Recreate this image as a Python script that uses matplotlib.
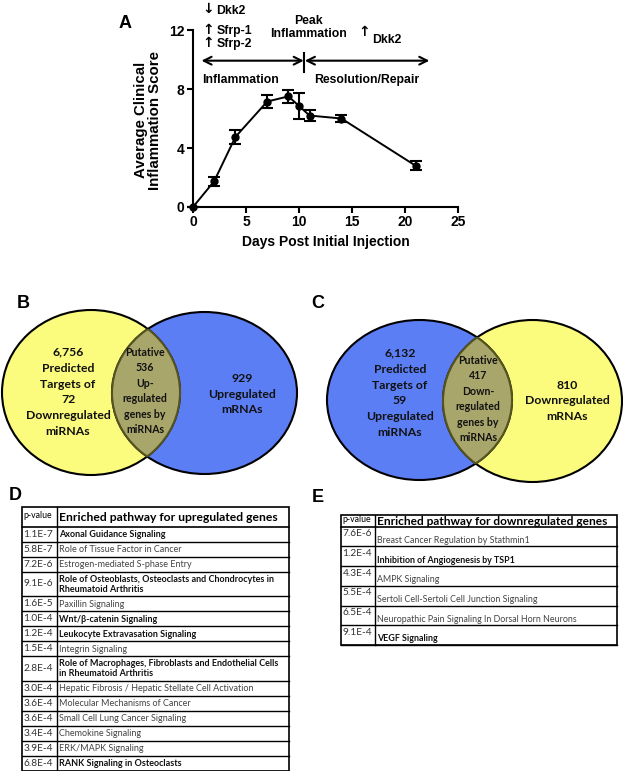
import matplotlib
matplotlib.use('Agg')
import matplotlib.pyplot as plt
from matplotlib.patches import Ellipse, Rectangle

plt.rcParams['font.family'] = ['Liberation Sans', 'DejaVu Sans']

# panel A: clinical score over time
days = [0, 2, 4, 7, 9, 10, 11, 14, 21]
score = [0, 1.75, 4.75, 7.15, 7.5, 6.85, 6.2, 6.0, 2.8]
score_err = [0, 0.3, 0.45, 0.45, 0.45, 0.85, 0.35, 0.25, 0.3]

# panels B / C: venn texts
venn_b = ['6,756\nPredicted\nTargets of\n72\nDownregulated\nmiRNAs',
          'Putative\n536\nUp-\nregulated\ngenes by\nmiRNAs',
          '929\nUpregulated\nmRNAs']
venn_c = ['6,132\nPredicted\nTargets of\n59\nUpregulated\nmiRNAs',
          'Putative\n417\nDown-\nregulated\ngenes by\nmiRNAs',
          '810\nDownregulated\nmRNAs']

# panel D
up_pvals = ['1.1E-7', '5.8E-7', '7.2E-6', '9.1E-6', '1.6E-5', '1.0E-4', '1.2E-4',
            '1.5E-4', '2.8E-4', '3.0E-4', '3.6E-4', '3.6E-4', '3.4E-4', '3.9E-4', '6.8E-4']
up_paths = ['Axonal Guidance Signaling',
            'Role of Tissue Factor in Cancer',
            'Estrogen-mediated S-phase Entry',
            'Role of Osteoblasts, Osteoclasts and Chondrocytes in\nRheumatoid Arthritis',
            'Paxillin Signaling',
            'Wnt/β-catenin Signaling',
            'Leukocyte Extravasation Signaling',
            'Integrin Signaling',
            'Role of Macrophages, Fibroblasts and Endothelial Cells\nin Rheumatoid Arthritis',
            'Hepatic Fibrosis / Hepatic Stellate Cell Activation',
            'Molecular Mechanisms of Cancer',
            'Small Cell Lung Cancer Signaling',
            'Chemokine Signaling',
            'ERK/MAPK Signaling',
            'RANK Signaling in Osteoclasts']
up_bold = [1, 0, 0, 1, 0, 1, 1, 0, 1, 0, 0, 0, 0, 0, 1]

# panel E
down_pvals = ['7.6E-6', '1.2E-4', '4.3E-4', '5.5E-4', '6.5E-4', '9.1E-4']
down_paths = ['Breast Cancer Regulation by Stathmin1',
              'Inhibition of Angiogenesis by TSP1',
              'AMPK Signaling',
              'Sertoli Cell-Sertoli Cell Junction Signaling',
              'Neuropathic Pain Signaling In Dorsal Horn Neurons',
              'VEGF Signaling']
down_bold = [0, 1, 0, 0, 0, 1]

W, H = 623, 771
fig = plt.figure(figsize=(W / 100, H / 100), dpi=100)

# pixel-space canvas for venns, tables and letters
bg = fig.add_axes([0, 0, 1, 1])
bg.set_xlim(0, W)
bg.set_ylim(H, 0)
bg.axis('off')

# ---- A ----
ax = fig.add_axes([193 / W, (H - 207) / H, 265 / W, 177 / H])
ax.patch.set_alpha(0)
ax.errorbar(days, score, yerr=score_err, fmt='-o', color='black', ms=5,
            lw=1.4, elinewidth=1.5, capsize=4, capthick=1.5, clip_on=False, zorder=5)
ax.set_xlim(0, 25)
ax.set_ylim(0, 12)
ax.set_xticks([0, 5, 10, 15, 20, 25])
ax.set_yticks([0, 4, 8, 12])
for s in ['top', 'right']:
    ax.spines[s].set_visible(False)
for s in ['left', 'bottom']:
    ax.spines[s].set_linewidth(1.5)
ax.tick_params(direction='out', length=4, width=1.5, labelsize=10, pad=2)
for lab in ax.get_xticklabels() + ax.get_yticklabels():
    lab.set_fontweight('bold')
ax.set_xlabel('Days Post Initial Injection', fontsize=10, fontweight='bold', labelpad=4)
ax.text(-0.17, 0.49, 'Average Clinical\nInflammation Score', transform=ax.transAxes,
        rotation=90, ha='center', va='center', fontsize=10.8, fontweight='bold',
        linespacing=1.05)

kw = dict(fontsize=8.8, fontweight='bold', clip_on=False)
akw = dict(fontsize=10, family='DejaVu Sans', fontweight='bold', ha='center', va='center',
           clip_on=False)
ax.text(1.4, 13.4, '↓', **akw)
ax.text(1.4, 12.0, '↑', **akw)
ax.text(1.4, 11.1, '↑', **akw)
ax.text(2.2, 13.3, 'Dkk2', va='center', **kw)
ax.text(2.2, 11.9, 'Sfrp-1', va='center', **kw)
ax.text(2.2, 11.05, 'Sfrp-2', va='center', **kw)
ax.text(10.9, 12.63, 'Peak', ha='center', va='center', **kw)
ax.text(10.85, 11.7, 'Inflammation', ha='center', va='center', **kw)
ax.text(16.1, 11.85, '↑', **akw)
ax.text(16.9, 11.3, 'Dkk2', va='center', **kw)
ax.text(0.9, 8.6, 'Inflammation', va='center', **kw)
ax.text(11.4, 8.6, 'Resolution/Repair', va='center', **kw)
arr = dict(arrowstyle='<->', lw=1.5, color='black', mutation_scale=14, shrinkA=0, shrinkB=0)
ax.annotate('', xy=(0.8, 9.92), xytext=(10.45, 9.92), arrowprops=arr, annotation_clip=False)
ax.annotate('', xy=(10.55, 9.92), xytext=(22.3, 9.92), arrowprops=arr, annotation_clip=False)
ax.plot([10.5, 10.5], [9.17, 10.45], color='black', lw=1.5, clip_on=False)

# ---- letters ----
for ch, x, y in [('A', 125, 23), ('B', 23, 303), ('C', 318, 303), ('D', 15, 495), ('E', 318, 497)]:
    bg.text(x, y, ch, ha='center', va='center', fontsize=13, fontweight='bold')

# ---- venns ----
YEL = '#fbfb7e'
BLU = '#5c7ef5'
OLV = '#a9a66b'


def venn(left, right, lcol, rcol, texts, tpos):
    e1 = Ellipse(left[:2], left[2], left[3], facecolor=lcol, edgecolor='none', zorder=1)
    e2 = Ellipse(right[:2], right[2], right[3], facecolor=rcol, edgecolor='none', zorder=1)
    bg.add_patch(e1)
    bg.add_patch(e2)
    ov = Ellipse(left[:2], left[2], left[3], facecolor=OLV, edgecolor='#55541f', lw=1.5, zorder=2)
    bg.add_patch(ov)
    ov.set_clip_path(e2)
    ov2 = Ellipse(right[:2], right[2], right[3], facecolor='none', edgecolor='#55541f', lw=1.5, zorder=2)
    bg.add_patch(ov2)
    ov2.set_clip_path(e1)
    for e in (left, right):
        bg.add_patch(Ellipse(e[:2], e[2], e[3], facecolor='none', edgecolor='black', lw=1.5, zorder=1.5))
    sizes = [8.8, 7.6, 8.8]
    spacing = [1.55, 1.5, 1.55]
    for t, (x, y), fs, ls in zip(texts, tpos, sizes, spacing):
        bg.text(x, y, t, ha='center', va='center', fontsize=fs, fontweight='bold',
                family='Lato', linespacing=ls, zorder=3, color='#111111')


venn((91, 392.5, 178, 165), (204.5, 393, 185, 162), YEL, BLU, venn_b,
     [(68, 392), (145, 391), (242, 394)])
venn((532.5, 401, 179, 162), (419.5, 400, 185, 160), YEL, BLU, venn_c,
     [(400, 393), (478, 399), (567, 401)])


# ---- tables ----
def table(x0, xs, x1, head_top, head_bot, heights, pvals, paths, bold, header,
          hfs, rfs, e_style):
    bg.add_patch(Rectangle((x0, head_top), x1 - x0, sum(heights) + head_bot - head_top,
                           facecolor='none', edgecolor='black', lw=1.2, zorder=4))
    bg.plot([xs, xs], [head_top, head_bot + sum(heights)], color='black', lw=1, zorder=4)
    bg.plot([x0, x1], [head_bot, head_bot], color='black', lw=1.2, zorder=4)
    bg.text(x0 + 1.5, (head_top + head_bot) / 2 - 1.5, 'p-value', fontsize=6.3, family='Lato',
            va='center', ha='left')
    bg.text(xs + 2, (head_top + head_bot) / 2 + 0.5, header, fontsize=hfs, family='Lato',
            fontweight='bold', va='center', ha='left')
    y = head_bot
    for h, p, t, b in zip(heights, pvals, paths, bold):
        if e_style:
            bg.text(x0 + 1.5, y + 2.5, p, fontsize=7.3, family='Lato', va='top', color='#333333')
            bg.text(xs + 2, y + h - 1.5, t, fontsize=rfs, family='Lato', va='bottom',
                    fontweight='bold' if b else 'normal',
                    color='#111111' if b else '#444444')
        else:
            bg.text(x0 + 1.5, y + h / 2, p, fontsize=7.3, family='Lato', va='center', color='#333333')
            bg.text(xs + 2, y + h / 2 + 0.5, t, fontsize=rfs, family='Lato', va='center',
                    fontweight='bold' if b else 'normal', linespacing=1.15,
                    color='#111111' if b else '#444444')
        y += h
        bg.plot([x0, x1], [y, y], color='black', lw=1, zorder=4)


d_heights = [24.5 if '\n' in t else 15.0 for t in up_paths]
table(22, 57, 289, 506.7, 526.7, d_heights, up_pvals, up_paths, up_bold,
      'Enriched pathway for upregulated genes', 8.7, 6.5, False)
table(341, 375, 617, 514.5, 526.7, [19.7] * len(down_paths), down_pvals, down_paths,
      down_bold, 'Enriched pathway for downregulated genes', 8.6, 6.4, True)

fig.savefig('out.png', dpi=100)
